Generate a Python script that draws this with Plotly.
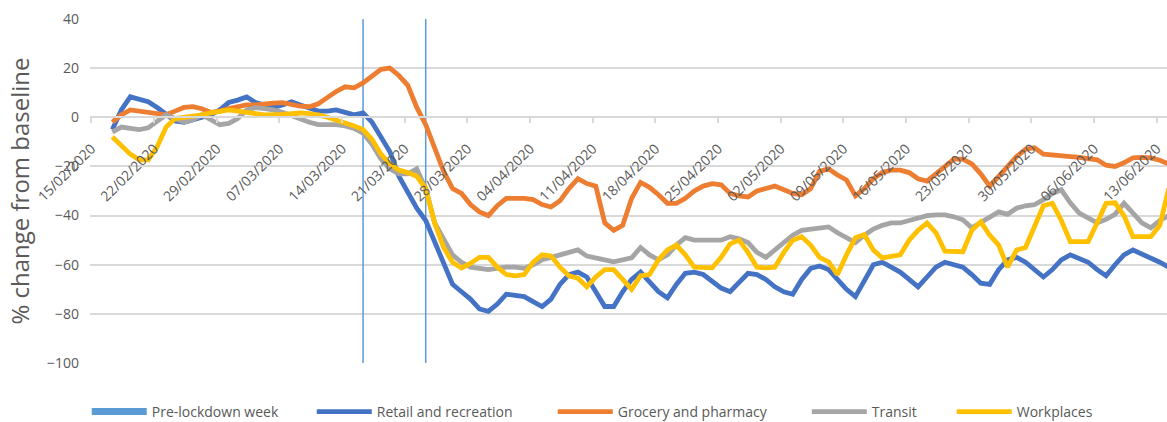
import pandas as pd
import plotly.graph_objects as go

# ---------------- data (daily, from 17/02/2020) ----------------
start_date = "2020-02-17 08:00"

retail = [
    -5, 3, 8.3, 7.5, 6.3, 4, 1.5, -1.5, -2, -1,
    0, 1, 3, 6, 7, 8.3, 6, 5, 4, 5,
    6.3, 5, 4, 2.5, 2.5, 3, 2, 1, 1.8, -2,
    -8, -14, -24, -31, -37, -42, -51, -60, -68, -71,
    -74, -78, -79, -76, -72, -72.5, -73, -75, -77, -74,
    -68, -64, -63, -65, -71, -77, -77, -71, -66, -63,
    -67, -71, -73.5, -68, -63.5, -63, -64, -67, -69.5, -71,
    -67, -63.5, -64, -66, -69, -71, -72, -66, -61.5, -60.5,
    -62, -66, -70, -73, -66, -60, -59, -61, -63, -66,
    -69, -65, -61, -59, -60, -61, -64, -67.5, -68, -62,
    -58, -57, -59, -62, -65, -62, -58, -56, -57.5, -59,
    -62, -64.5, -60, -56, -54, -55.5, -57, -59, -61,
]

grocery = [
    -2, 1, 3, 2.5, 2, 1.5, 1, 2.5, 4, 4.3,
    3.5, 2, 2.5, 3.5, 4.5, 5, 5, 5.5, 5.8, 6,
    5, 4.5, 4.3, 5.5, 8, 10.5, 12.4, 12, 14, 16.5,
    19.5, 20, 17, 13, 4, -3, -12, -22, -29, -31,
    -35.5, -38.5, -40, -36, -33, -33, -33, -33.5, -35.5, -36.5,
    -34, -29, -25, -27, -28, -43, -46, -44, -33, -26.5,
    -28.5, -31.5, -35, -35, -33, -30, -28, -27, -27.5, -31,
    -32, -32.4, -30, -29, -28, -29.5, -31, -31.5, -29, -22,
    -21, -23.5, -25.5, -32, -29, -25, -22.5, -21.5, -21.5, -22.5,
    -25, -26, -23, -20, -17, -17, -19, -23, -28, -24,
    -20, -16, -13, -12.4, -15, -15.3, -15.3, -15.8, -16.3, -16.8,
    -17.3, -19.5, -20, -18.5, -16.5, -16.3, -16.5, -17.5, -19,
]

transit = [
    -6, -4, -4.5, -5, -4.3, -1.5, 1, -0.5, -2, -1,
    1, -1, -3, -2.5, -0.5, 3, 3.9, 3.5, 3, 2,
    0.5, -0.5, -2, -3, -3, -3, -3.5, -4.5, -6.5, -11,
    -17, -21, -23, -23, -21, -29, -43, -50, -56, -59,
    -61, -61.5, -62, -61.5, -61, -61, -61.5, -60, -58, -57,
    -56, -55, -54, -56.5, -57.5, -58, -58.8, -58, -57.2, -53,
    -56, -58, -56, -52, -49, -50, -50, -50, -50, -48.6,
    -49.5, -51, -55, -57, -54, -51, -48, -46, -45.5, -45,
    -44.6, -47, -49, -51, -48, -45.5, -44, -43, -43, -42,
    -41, -40, -39.7, -39.7, -40.5, -41.7, -45, -43, -41, -38.5,
    -39.5, -37, -36, -35.6, -33.5, -31, -29.5, -34.8, -39, -41,
    -43, -41.5, -39.5, -35, -39, -43, -45, -42, -40,
]

workplaces = [
    -8, -11.5, -15, -17.3, -17.3, -12, -4, -0.5, 0, 0.2,
    1, 1.8, 2.5, 3, 2.5, 2.2, 1.5, 1, 1, 1.2,
    1.5, 1.8, 1.5, 1, 0, -1, -2.3, -3.5, -5, -9,
    -15, -19, -21.5, -22.5, -24, -29, -43, -53, -59, -61.3,
    -59.5, -57, -57, -61, -64, -64.5, -64, -59, -56, -56.5,
    -61, -64.5, -65.5, -69, -65, -62, -62, -66, -70, -64.5,
    -64, -58, -54, -52, -56, -61, -61.3, -61.3, -57, -51.5,
    -50, -55, -61, -61.3, -61, -55, -50, -48.6, -52, -57,
    -58.8, -64, -56, -49, -47.8, -54, -57.2, -56.5, -56, -50,
    -46, -43, -47, -54.5, -54.7, -54.7, -46, -42.5, -48, -52,
    -61, -54, -53, -44, -36, -35, -42, -50.6, -50.6, -50.6,
    -43, -35, -34.8, -40, -48.6, -48.6, -48.6, -44, -29,
]

lockdown_week = ["2020-03-16 08:00", "2020-03-23 08:00"]

tick_dates = [
    "2020-02-15", "2020-02-22", "2020-02-29", "2020-03-07", "2020-03-14",
    "2020-03-21", "2020-03-28", "2020-04-04", "2020-04-11", "2020-04-18",
    "2020-04-25", "2020-05-02", "2020-05-09", "2020-05-16", "2020-05-23",
    "2020-05-30", "2020-06-06", "2020-06-13",
]
tick_labels = [
    "15/02/2020", "22/02/2020", "29/02/2020", "07/03/2020", "14/03/2020",
    "21/03/2020", "28/03/2020", "04/04/2020", "11/04/2020", "18/04/2020",
    "25/04/2020", "02/05/2020", "09/05/2020", "16/05/2020", "23/05/2020",
    "30/05/2020", "06/06/2020", "13/06/2020",
]

y_range = [-100, 40]
x_range = ["2020-02-14 20:00", "2020-06-14 03:20"]

dates = pd.date_range(start_date, periods=len(retail), freq="D")

# ---------------- figure ----------------
FONT = "Open Sans"
TXT = "#595959"
GRID = "#d9d9d9"

fig = go.Figure()

# pre-lockdown week vertical lines
fig.add_trace(go.Scatter(
    x=[lockdown_week[0], lockdown_week[0], None, lockdown_week[1], lockdown_week[1]],
    y=[y_range[0], y_range[1], None, y_range[0], y_range[1]],
    mode="lines", line=dict(color="#5B9BD5", width=1.5),
    showlegend=False, hoverinfo="skip",
))
# legend entry for pre-lockdown week
fig.add_trace(go.Scatter(
    x=[None], y=[None], mode="lines",
    line=dict(color="#5B9BD5", width=7),
    name="Pre-lockdown week", legendwidth=155,
))

series = [
    ("Retail and recreation", retail, "#4472C4", 171),
    ("Grocery and pharmacy", grocery, "#ED7D31", 184),
    ("Transit", transit, "#A5A5A5", 75),
    ("Workplaces", workplaces, "#FFC000", 80),
]
for name, vals, color, lw in series:
    fig.add_trace(go.Scatter(
        x=dates, y=vals, mode="lines", name=name,
        line=dict(color=color, width=4.8),
        legendwidth=lw,
    ))

fig.update_layout(
    width=1167, height=422,
    margin=dict(l=90, r=0, t=19, b=59, autoexpand=False),
    paper_bgcolor="white", plot_bgcolor="white",
    font=dict(family=FONT, color=TXT, size=14),
    showlegend=True,
    legend=dict(
        orientation="h", x=-0.003, xanchor="left",
        y=-0.096, yanchor="top",
        itemwidth=55, font=dict(family=FONT, size=14, color=TXT),
        bgcolor="rgba(0,0,0,0)", traceorder="normal",
    ),
    xaxis=dict(
        type="date", range=x_range,
        anchor="free", position=(0 - y_range[0]) / (y_range[1] - y_range[0]),
        tickmode="array", tickvals=tick_dates, ticktext=tick_labels,
        tickangle=-45, tickfont=dict(family=FONT, size=14, color=TXT),
        ticks="outside", ticklen=5, tickwidth=1.5, tickcolor=GRID,
        ticklabelstandoff=12,
        showline=True, linecolor=GRID, linewidth=1.5,
        showgrid=False, zeroline=False,
    ),
    yaxis=dict(
        range=y_range, dtick=20, tick0=0,
        showgrid=True, gridcolor=GRID, gridwidth=1.5,
        zeroline=False, showline=False,
        tickfont=dict(family=FONT, size=14, color=TXT),
        ticklabelstandoff=10,
        title=dict(text="% change from baseline",
                   font=dict(family=FONT, size=24, color=TXT), standoff=10),
    ),
)

fig.write_html(
    "out.html",
    config={"displayModeBar": False},
    post_script="document.body.style.margin='0';document.body.style.overflow='hidden';window.dispatchEvent(new Event('resize'));",
)
